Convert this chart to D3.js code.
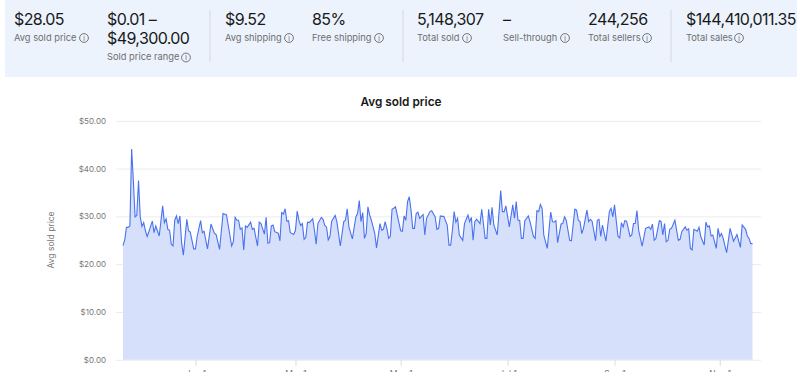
<!DOCTYPE html>
<html>
<head>
<meta charset="utf-8">
<script src="https://cdnjs.cloudflare.com/ajax/libs/d3/7.8.5/d3.min.js"></script>
<style>
html, body { margin: 0; padding: 0; background: #fff; overflow: hidden; }
svg { display: block; font-family: Inter, "Open Sans", sans-serif; }
</style>
</head>
<body>
<script>
const width = 800;
const height = 372;

// summary strip
const statValues = ["$28.05", "$0.01 –", "$9.52", "85%", "5,148,307", "–", "244,256", "$144,410,011.35"];
const statLabels = ["Avg sold price", "Sold price range", "Avg shipping", "Free shipping", "Total sold", "Sell-through", "Total sellers", "Total sales"];
const rangeHigh = "$49,300.00";

// chart
const chartTitle = "Avg sold price";
const yTicks = [0, 10, 20, 30, 40, 50];
const tickDays = [42, 100, 161, 223, 285, 346];
const tickLabels = ["Jan 1", "Mar 1", "May 1", "Jul 1", "Sep 1", "Nov 1"];

// days since the start of the range, with the avg price read on that day
const days = [
    0,1,2,3,4,5,6,7,8,9,10,11,12,13,14,15,17,18,19,21,23,24,25,26,27,28,29,30,31,32,33,34,35,37,38,39,41,42,43,45,46,47,49,51,53,54,56,58,60,61,
    63,64,65,66,67,68,69,70,71,72,74,75,76,78,79,80,82,83,84,85,86,87,88,90,91,92,93,94,95,96,97,99,100,101,102,103,104,105,106,107,108,110,111,112,113,115,116,117,118,119,
    120,121,123,124,126,128,129,130,131,133,135,136,137,138,139,140,141,142,143,144,146,147,149,150,151,152,153,154,155,156,157,158,159,161,162,163,164,165,166,167,168,169,170,171,172,174,175,176,178,179,
    181,182,183,184,185,186,188,189,190,191,192,193,194,195,197,198,200,201,202,203,204,205,207,208,210,211,212,213,214,215,217,219,220,221,222,224,226,227,228,229,230,231,232,233,235,236,238,239,240,241,
    242,243,244,246,248,249,250,251,252,254,255,256,257,259,260,262,263,264,265,266,267,269,270,271,272,274,275,276,277,278,280,282,283,284,285,287,288,289,290,291,292,294,295,296,297,298,299,301,303,305,
    306,307,308,309,311,312,313,314,315,316,317,318,320,322,323,324,326,327,328,329,330,331,333,334,335,337,338,339,340,341,342,344,345,346,347,348,350,352,354,356,358,359,361,362,363,364,365
];
const avgPrice = [
    23.9,25.1,27.7,27.7,28.0,44.1,37.5,29.9,30.2,37.5,29.9,27.9,28.7,27.0,25.8,26.8,29.0,26.6,28.0,25.9,32.2,28.7,29.5,27.3,27.1,24.2,23.8,29.2,30.1,28.5,30.1,24.4,21.9,29.4,27.0,26.7,23.2,23.2,25.8,29.1,26.6,26.9,23.2,28.4,26.5,26.2,23.1,30.6,30.3,28.2,
    23.8,24.7,29.8,29.2,29.2,27.3,27.6,23.0,28.0,27.7,28.8,27.3,27.5,23.8,28.8,28.5,26.3,29.8,24.4,24.5,28.0,28.2,26.8,26.5,24.9,30.8,30.5,31.6,29.0,29.1,26.6,26.2,27.1,31.1,29.2,28.1,28.5,25.2,25.6,28.8,28.7,29.5,27.1,24.2,28.5,29.8,29.4,28.1,27.8,25.1,
    25.8,29.0,30.2,28.9,23.8,28.9,29.2,31.6,27.8,25.3,29.9,30.6,33.3,28.9,30.8,25.4,26.4,32.0,30.3,29.2,26.4,23.4,28.5,27.1,27.3,28.9,27.5,25.4,25.8,31.5,31.7,32.0,30.3,27.0,26.9,30.1,29.2,33.1,34.1,31.3,27.5,27.5,30.6,30.9,29.6,30.4,26.1,29.6,31.0,31.2,
    29.9,27.3,27.5,30.1,30.0,30.0,28.2,24.0,24.0,27.1,31.0,28.8,29.6,26.1,25.0,28.5,30.3,28.9,29.8,25.0,28.9,29.4,28.5,31.5,25.4,25.4,31.5,28.2,31.9,28.2,26.1,35.4,31.0,31.0,32.2,27.8,32.4,29.6,33.1,29.2,29.2,25.4,25.4,29.1,30.1,28.9,25.8,25.4,31.2,31.0,
    32.5,31.7,26.1,23.3,30.9,28.9,28.8,29.1,24.5,28.4,28.5,29.9,29.2,25.0,24.9,31.5,31.3,29.2,28.9,26.4,27.5,31.3,28.9,29.4,29.0,24.9,29.2,29.4,25.8,28.2,24.8,31.0,31.7,29.9,32.4,25.8,25.5,28.7,27.8,29.1,29.0,25.8,26.1,28.5,28.5,31.2,27.1,23.8,27.5,27.8,
    27.3,28.4,25.0,25.4,29.1,28.9,26.1,28.5,24.7,25.0,27.3,27.5,29.2,25.0,25.2,26.8,27.8,27.1,27.4,23.3,23.0,27.3,26.9,27.7,25.8,24.0,28.8,27.8,28.0,25.9,26.1,23.3,27.5,25.8,26.4,25.4,22.4,27.5,24.8,26.2,23.5,28.2,27.3,25.9,25.4,24.3,24.3
];

const points = days.map(function(d, i) { return {day: d, price: avgPrice[i]}; });

const svg = d3.select("body")
    .append("svg")
    .attr("width", width)
    .attr("height", height);

// summary strip
svg.append("rect")
    .attr("x", 5)
    .attr("y", -1)
    .attr("width", 792)
    .attr("height", 78)
    .attr("fill", "#ecf3fd");

const statX = [14, 107, 225, 312, 417, 503, 588, 686];
const iconX = [84, 186, 289, 379, 467, 565, 647, 739];

const stats = svg.selectAll("g.stat")
    .data(statValues)
    .enter()
    .append("g")
    .attr("class", "stat");

stats.append("text")
    .attr("x", function(d, i) { return statX[i]; })
    .attr("y", 25)
    .attr("font-size", 16)
    .attr("letter-spacing", -0.6)
    .attr("fill", "#191919")
    .text(function(d) { return d; });

svg.append("text")
    .attr("x", statX[1])
    .attr("y", 44)
    .attr("font-size", 16)
    .attr("letter-spacing", -0.6)
    .attr("fill", "#191919")
    .text(rangeHigh);

stats.append("text")
    .attr("x", function(d, i) { return statX[i]; })
    .attr("y", function(d, i) { return i == 1 ? 60 : 40.5; })
    .attr("font-size", 9.3)
    .attr("fill", "#6e6e6e")
    .text(function(d, i) { return statLabels[i]; });

// info icons
const icons = stats.append("g")
    .attr("transform", function(d, i) {
        return "translate(" + iconX[i] + "," + (i == 1 ? 57.5 : 38) + ")";
    });

icons.append("circle")
    .attr("r", 4.4)
    .attr("fill", "none")
    .attr("stroke", "#555")
    .attr("stroke-width", 0.8);

icons.append("text")
    .attr("text-anchor", "middle")
    .attr("y", 2.5)
    .attr("font-size", 6.5)
    .attr("fill", "#555")
    .text("i");

// dividers
svg.selectAll("line.divider")
    .data([210, 403, 671])
    .enter()
    .append("line")
    .attr("class", "divider")
    .attr("x1", function(d) { return d; })
    .attr("x2", function(d) { return d; })
    .attr("y1", 10)
    .attr("y2", 62)
    .attr("stroke", "#d5d9df");

// chart
const xScale = d3.scaleLinear()
    .domain([0, 365])
    .range([123, 752.5]);

const yScale = d3.scaleLinear()
    .domain([0, 50])
    .range([359.8, 120.8]);

svg.append("text")
    .attr("x", 401)
    .attr("y", 106)
    .attr("text-anchor", "middle")
    .attr("font-size", 11.8)
    .attr("font-weight", 600)
    .attr("fill", "#191919")
    .text(chartTitle);

svg.append("text")
    .attr("transform", "translate(54,240) rotate(-90)")
    .attr("text-anchor", "middle")
    .attr("font-size", 8.5)
    .attr("fill", "#767676")
    .text(chartTitle);

// y axis with long ticks acting as the gridlines
const yAxis = d3.axisLeft(yScale)
    .tickValues(yTicks)
    .tickFormat(function(d) { return "$" + d3.format(".2f")(d); })
    .tickSize(-645)
    .tickPadding(10);

const yG = svg.append("g")
    .attr("transform", "translate(116,0)")
    .call(yAxis);

yG.select(".domain").remove();
yG.selectAll("line").attr("stroke", "#ececec");
yG.selectAll("text")
    .attr("font-family", "Inter, sans-serif")
    .attr("font-size", 8)
    .attr("fill", "#767676");

const xAxis = d3.axisBottom(xScale)
    .tickValues(tickDays)
    .tickFormat(function(d, i) { return tickLabels[i]; })
    .tickSize(6)
    .tickPadding(5);

const xG = svg.append("g")
    .attr("transform", "translate(0,359.8)")
    .call(xAxis);

xG.select(".domain").remove();
xG.selectAll("line").attr("stroke", "#dcdcdc");
xG.selectAll("text")
    .attr("font-family", "Inter, sans-serif")
    .attr("font-size", 8.5)
    .attr("fill", "#767676");

const area = d3.area()
    .x(function(d) { return xScale(d.day); })
    .y0(yScale(0))
    .y1(function(d) { return yScale(d.price); });

const line = d3.line()
    .x(function(d) { return xScale(d.day); })
    .y(function(d) { return yScale(d.price); });

svg.append("path")
    .datum(points)
    .attr("d", area)
    .attr("fill", "#d6e0fb");

svg.append("path")
    .datum(points)
    .attr("d", line)
    .attr("fill", "none")
    .attr("stroke", "#4a72ee")
    .attr("stroke-width", 1.1);
</script>
</body>
</html>
